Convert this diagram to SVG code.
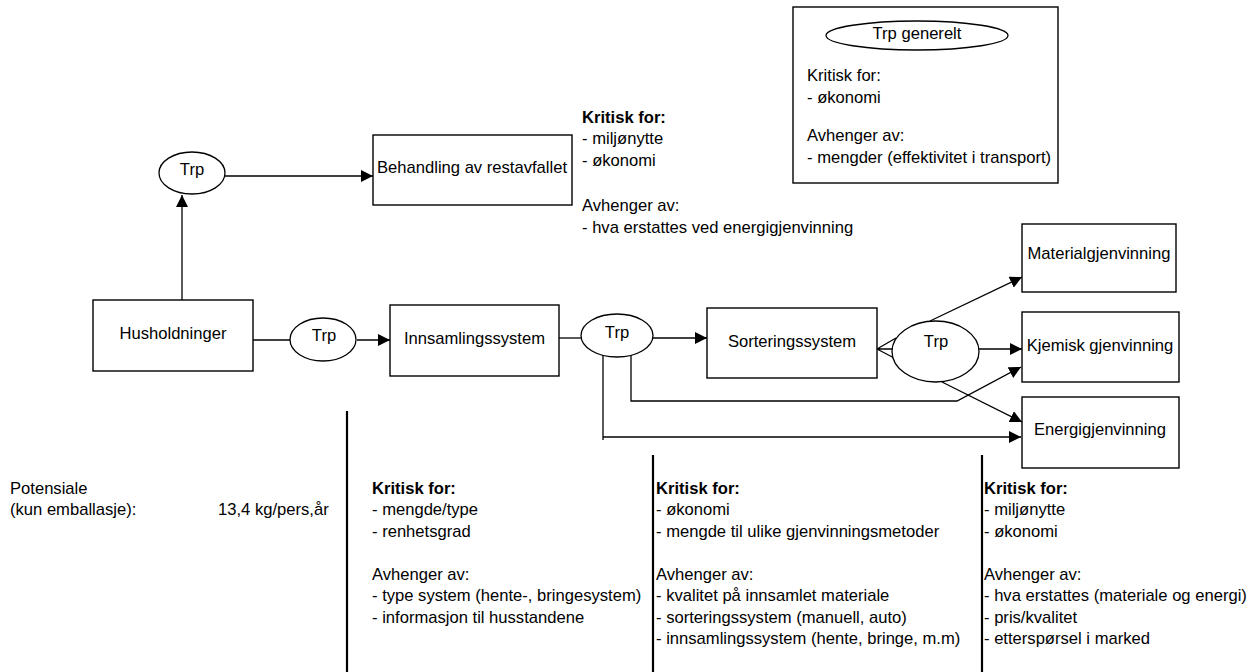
<svg xmlns="http://www.w3.org/2000/svg" width="1254" height="672" viewBox="0 0 1254 672">
<style>
text{font-family:"Liberation Sans",Arial,sans-serif;font-size:16.6px;fill:#000}
.c{text-anchor:middle}
.b{font-weight:bold}
.box{fill:#fff;stroke:#000;stroke-width:1.4}
.ell{fill:#fff;stroke:#000;stroke-width:1.3}
.ln{fill:none;stroke:#000;stroke-width:1.3}
.bar{stroke:#000;stroke-width:2.2}
</style>
<defs>
<marker id="ah" markerUnits="userSpaceOnUse" markerWidth="13" markerHeight="12" refX="12" refY="6" orient="auto">
<path d="M0,0 L12,6 L0,12 z" fill="#000"/>
</marker>
</defs>
<rect width="1254" height="672" fill="#fff"/>
<g id="connectors">
<line class="ln" x1="182" y1="300" x2="182" y2="195" marker-end="url(#ah)"/>
<line class="ln" x1="225" y1="176" x2="373" y2="176" marker-end="url(#ah)"/>
<line class="ln" x1="253" y1="340" x2="290" y2="340"/>
<line class="ln" x1="357" y1="340" x2="390" y2="340" marker-end="url(#ah)"/>
<line class="ln" x1="559" y1="338" x2="581" y2="338"/>
<line class="ln" x1="653" y1="338" x2="707" y2="338" marker-end="url(#ah)"/>
<polyline class="ln" points="631,354 631,401 957,401 1021,367" marker-end="url(#ah)"/>
<line class="ln" x1="603" y1="440" x2="603" y2="354"/>
<line class="ln" x1="603" y1="437" x2="1021" y2="437" marker-end="url(#ah)"/>
<path class="ln" d="M877,349 L896,338 M877,349 L896,359 M877,349 L893,349"/>
<line class="ln" x1="930" y1="321" x2="1022" y2="277" marker-end="url(#ah)"/>
<line class="ln" x1="979" y1="349" x2="1022" y2="349" marker-end="url(#ah)"/>
<line class="ln" x1="942" y1="382" x2="1022" y2="422" marker-end="url(#ah)"/>
</g>
<g id="husholdninger">
<rect class="box" x="93" y="300" width="160" height="71"/>
<text class="c" x="173" y="339">Husholdninger</text>
</g>
<g id="trp1">
<ellipse class="ell" cx="192" cy="173" rx="33" ry="21"/>
<text class="c" x="192" y="175">Trp</text>
</g>
<g id="behandling">
<rect class="box" x="373" y="135" width="199" height="70"/>
<text class="c" x="472" y="173">Behandling av restavfallet</text>
</g>
<g id="trp2">
<ellipse class="ell" cx="323" cy="339.5" rx="33" ry="21.5"/>
<text class="c" x="324" y="341">Trp</text>
</g>
<g id="innsamling">
<rect class="box" x="390" y="305" width="169" height="71"/>
<text class="c" x="474.5" y="344">Innsamlingssystem</text>
</g>
<g id="trp3">
<ellipse class="ell" cx="617" cy="335.5" rx="36" ry="21.5"/>
<text class="c" x="617" y="338">Trp</text>
</g>
<g id="sortering">
<rect class="box" x="707" y="308" width="170" height="70"/>
<text class="c" x="792" y="347">Sorteringssystem</text>
</g>
<g id="trp4">
<ellipse class="ell" cx="935.5" cy="351.5" rx="43.5" ry="30.5"/>
<text class="c" x="936" y="347">Trp</text>
</g>
<g id="material">
<rect class="box" x="1022" y="224" width="154" height="68"/>
<text class="c" x="1099" y="259">Materialgjenvinning</text>
</g>
<g id="kjemisk">
<rect class="box" x="1022" y="312" width="157" height="70"/>
<text class="c" x="1100" y="351">Kjemisk gjenvinning</text>
</g>
<g id="energi">
<rect class="box" x="1022" y="397" width="157" height="71"/>
<text class="c" x="1100" y="435">Energigjenvinning</text>
</g>
<g id="trp-generelt">
<rect class="box" x="793" y="7" width="265" height="176"/>
<ellipse class="ell" cx="917" cy="35.5" rx="91" ry="14.5"/>
<text class="c" x="917" y="39">Trp generelt</text>
<text x="807" y="81">Kritisk for:</text>
<text x="807" y="103">- økonomi</text>
<text x="807" y="141">Avhenger av:</text>
<text x="807" y="163">- mengder (effektivitet i transport)</text>
</g>
<g id="behandling-info">
<text class="b" x="582" y="123">Kritisk for:</text>
<text x="582" y="144">- miljønytte</text>
<text x="582" y="166">- økonomi</text>
<text x="582" y="211">Avhenger av:</text>
<text x="582" y="233">- hva erstattes ved energigjenvinning</text>
</g>
<g id="potensiale">
<text x="10" y="494">Potensiale</text>
<text x="10" y="515">(kun emballasje):</text>
<text x="218" y="515">13,4 kg/pers,år</text>
</g>
<g id="separators">
<line class="bar" x1="347" y1="411" x2="347" y2="672"/>
<line class="bar" x1="653" y1="455" x2="653" y2="672"/>
<line class="bar" x1="982" y1="455" x2="982" y2="672"/>
</g>
<g id="innsamling-info">
<text class="b" x="372" y="494">Kritisk for:</text>
<text x="372" y="515">- mengde/type</text>
<text x="372" y="537">- renhetsgrad</text>
<text x="372" y="580">Avhenger av:</text>
<text x="372" y="601">- type system (hente-, bringesystem)</text>
<text x="372" y="623">- informasjon til husstandene</text>
</g>
<g id="sortering-info">
<text class="b" x="656" y="494">Kritisk for:</text>
<text x="656" y="515">- økonomi</text>
<text x="656" y="537">- mengde til ulike gjenvinningsmetoder</text>
<text x="656" y="580">Avhenger av:</text>
<text x="656" y="601">- kvalitet på innsamlet materiale</text>
<text x="656" y="623">- sorteringssystem (manuell, auto)</text>
<text x="656" y="644">- innsamlingssystem (hente, bringe, m.m)</text>
</g>
<g id="gjenvinning-info">
<text class="b" x="984" y="494">Kritisk for:</text>
<text x="984" y="515">- miljønytte</text>
<text x="984" y="537">- økonomi</text>
<text x="984" y="580">Avhenger av:</text>
<text x="984" y="601">- hva erstattes (materiale og energi)</text>
<text x="984" y="623">- pris/kvalitet</text>
<text x="984" y="644">- etterspørsel i marked</text>
</g>
</svg>
